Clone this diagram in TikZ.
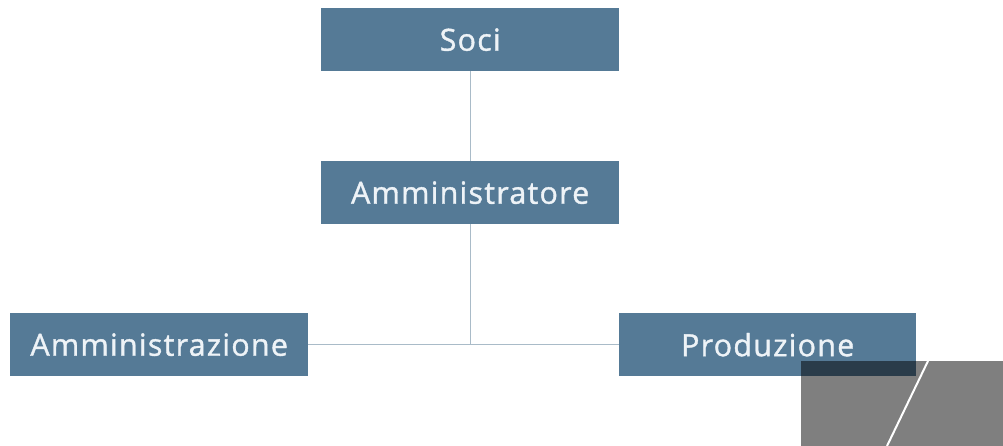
\documentclass[tikz,border=0pt]{standalone}
\usepackage{fontspec}
\setmainfont{Open Sans}
\newfontfamily\boxfont[LetterSpace=4,FakeBold=1.2]{Open Sans}
\definecolor{boxblue}{HTML}{557A96}
\definecolor{linecol}{HTML}{A9BBC8}
\definecolor{txtcol}{HTML}{EEF3F7}
\begin{document}
\begin{tikzpicture}[x=1pt,y=-1pt,
  orgbox/.style={fill=boxblue, draw=none, minimum height=63pt, inner sep=0pt, text=txtcol, font=\boxfont\fontsize{30.5}{34}\selectfont, anchor=north west},
  conn/.style={draw=linecol, line width=1.4pt}]
\useasboundingbox (0,0) rectangle (1003,446);
\fill[white] (0,0) rectangle (1003,446);
\node[orgbox, minimum width=298pt] (soci) at (321,8) {Soci};
\node[orgbox, minimum width=298pt] (amm) at (321,161) {Amministratore};
\node[orgbox, minimum width=298pt] (admin) at (10,313) {Amministrazione};
\node[orgbox, minimum width=297pt] (prod) at (619,313) {Produzione};
\coordinate (j) at (amm.south |- admin.east);
\draw[conn] (soci.south) -- (amm.north);
\draw[conn] (amm.south) -- (j);
\draw[conn] (admin.east) -- (prod.west);
\fill[black, opacity=0.5] (801,361) rectangle (1003,446);
\draw[white, line width=2pt] (928,361) -- (887,446);
\end{tikzpicture}
\end{document}
